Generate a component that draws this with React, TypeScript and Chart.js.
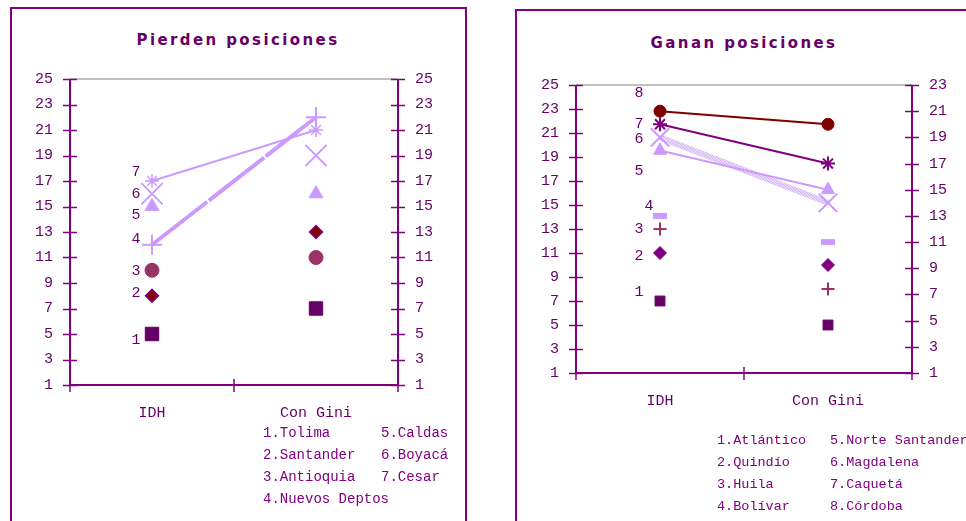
import React, { useEffect, useRef } from "react";
import { Chart, registerables } from "chart.js";
Chart.register(...registerables);

const categories = ["IDH", "Con Gini"];

const lossNames = ["Tolima", "Santander", "Antioquia", "Nuevos Deptos", "Caldas", "Boyacá", "Cesar"];
const lossIDH = [5, 8, 10, 12, 15, 16, 17];
const lossGini = [7, 13, 11, 22, 16, 19, 21];

const gainNames = ["Atlántico", "Quindío", "Huila", "Bolívar", "Norte Santander", "Magdalena", "Caquetá", "Córdoba"];
const gainIDH = [7, 11, 13, 13, 18, 19, 20, 21];
const gainGini = [5, 10, 8, 11, 15, 14, 17, 20];
const gainAxisIds = ["y", "y", "y", "y2", "y2", "y2", "y2", "y2"];

const lossTitle = "Pierden posiciones";
const gainTitle = "Ganan posiciones";

const PURPLE = "#800080";
const DARK = "#660066";
const LAV = "#CC99FF";
const MONO = "'Liberation Mono', 'DejaVu Sans Mono', monospace";

type Style = {
  ps: string; r: number; bg: string; bc: string; bw: number;
  line?: { color: any; width: number; dash?: number[] };
};

function makeHatch(): any {
  const c = document.createElement("canvas");
  c.width = 3; c.height = 3;
  const g = c.getContext("2d")!;
  g.fillStyle = "#E8D8F8"; g.fillRect(0, 0, 3, 3);
  g.fillStyle = "#D2B4F2";
  g.fillRect(0, 0, 1, 1); g.fillRect(1, 1, 1, 1); g.fillRect(2, 2, 1, 1);
  return g.createPattern(c, "repeat");
}

const lossStyles: Style[] = [
  { ps: "rect", r: 9.5, bg: DARK, bc: DARK, bw: 1 },
  { ps: "rectRot", r: 6.5, bg: "#800000", bc: PURPLE, bw: 1.5 },
  { ps: "circle", r: 7, bg: "#993366", bc: "#993366", bw: 1 },
  { ps: "cross", r: 10, bg: LAV, bc: LAV, bw: 2, line: { color: LAV, width: 4, dash: [70, 2] } },
  { ps: "triangle", r: 8, bg: LAV, bc: LAV, bw: 1 },
  { ps: "crossRot", r: 15, bg: LAV, bc: LAV, bw: 2 },
  { ps: "star", r: 7, bg: LAV, bc: LAV, bw: 1.5, line: { color: LAV, width: 2 } },
];

const gainStyles = (): Style[] => [
  { ps: "rect", r: 7, bg: DARK, bc: DARK, bw: 1 },
  { ps: "rectRot", r: 6.5, bg: PURPLE, bc: PURPLE, bw: 1 },
  { ps: "cross", r: 6.5, bg: "#993366", bc: "#993366", bw: 2 },
  { ps: "line", r: 7, bg: LAV, bc: LAV, bw: 6 },
  { ps: "triangle", r: 7.5, bg: LAV, bc: LAV, bw: 1, line: { color: LAV, width: 2 } },
  { ps: "crossRot", r: 13, bg: LAV, bc: LAV, bw: 2, line: { color: makeHatch(), width: 6 } },
  { ps: "star", r: 7, bg: PURPLE, bc: PURPLE, bw: 2, line: { color: PURPLE, width: 2 } },
  { ps: "circle", r: 6, bg: "#800000", bc: "#800000", bw: 1, line: { color: "#800000", width: 2 } },
];

const framePlugin = {
  id: "frame",
  beforeDatasetsDraw(chart: any) {
    const { ctx, chartArea: a, scales } = chart;
    const seg = (x1: number, y1: number, x2: number, y2: number) => {
      ctx.beginPath(); ctx.moveTo(x1, y1); ctx.lineTo(x2, y2); ctx.stroke();
    };
    ctx.save();
    ctx.strokeStyle = "#C0C0C0"; ctx.lineWidth = 2;
    seg(a.left, a.top, a.right, a.top);
    ctx.strokeStyle = PURPLE; ctx.lineWidth = 2;
    seg(a.left, a.top, a.left, a.bottom + 1);
    seg(a.right, a.top, a.right, a.bottom + 1);
    seg(a.left, a.bottom, a.right, a.bottom);
    ctx.lineWidth = 1.5;
    Object.values(scales).forEach((s: any) => {
      if (s.axis !== "y") return;
      const x = s.position === "left" ? a.left : a.right;
      s.ticks.forEach((t: any) => {
        const py = Math.round(s.getPixelForValue(t.value)) + 0.5;
        seg(x - 7, py, x + 7, py);
      });
    });
    const xs = scales.x;
    const p0 = xs.getPixelForValue(0), p1 = xs.getPixelForValue(1);
    [a.left, (p0 + p1) / 2, a.right].forEach((x) => seg(x, a.bottom - 6, x, a.bottom + 7));
    ctx.restore();
  },
  afterDatasetsDraw(chart: any, _args: any, opts: any) {
    const { ctx } = chart;
    ctx.save();
    ctx.fillStyle = DARK;
    ctx.font = `15px ${MONO}`;
    ctx.textAlign = "center";
    ctx.textBaseline = "middle";
    chart.data.datasets.forEach((_d: any, i: number) => {
      const el = chart.getDatasetMeta(i).data[0];
      if (!el) return;
      const dx = opts.dx[i], dy = opts.dy[i];
      ctx.fillText(String(i + 1), el.x + dx, el.y + dy);
    });
    ctx.restore();
  },
};

function buildDatasets(idh: number[], gini: number[], styles: Style[], names: string[], axes?: string[]) {
  return idh.map((v, i) => {
    const s = styles[i];
    return {
      label: names[i],
      data: [v, gini[i]],
      yAxisID: axes ? axes[i] : "y",
      showLine: !!s.line,
      borderColor: s.line ? s.line.color : s.bc,
      borderWidth: s.line ? s.line.width : 0,
      borderDash: s.line && s.line.dash ? s.line.dash : [],
      pointStyle: s.ps,
      pointRadius: s.r,
      pointBackgroundColor: s.bg,
      pointBorderColor: s.bc,
      pointBorderWidth: s.bw,
      fill: false,
      tension: 0,
    };
  });
}

function yAxis(position: string, min: number, max: number, width: number, display = true) {
  return {
    type: "linear",
    position,
    min, max,
    afterFit: (s: any) => { s.width = width; },
    grid: { display: false, drawTicks: false },
    border: { display: false },
    ticks: {
      stepSize: 2,
      padding: 17,
      color: DARK,
      font: { family: MONO, size: 15 },
      display,
    },
  };
}

function ChartBox(props: { cfg: () => any; left: number; top: number; w: number; h: number }) {
  const ref = useRef<HTMLCanvasElement>(null);
  useEffect(() => {
    const chart = new Chart(ref.current!, props.cfg());
    return () => chart.destroy();
  }, []);
  return (
    <canvas
      ref={ref}
      width={props.w}
      height={props.h}
      style={{ position: "absolute", left: props.left, top: props.top, width: props.w, height: props.h }}
    />
  );
}

const lossCfg = () => ({
  type: "line",
  data: { labels: categories, datasets: buildDatasets(lossIDH, lossGini, lossStyles, lossNames) },
  options: {
    responsive: false,
    animation: false,
    events: [],
    layout: { padding: { top: 72, left: 0, right: 0, bottom: 0 } },
    plugins: {
      legend: { display: false },
      title: { display: false },
      tooltip: { enabled: false },
      frame: { dx: [-16, -16, -16, -16, -16, -16, -16], dy: [6, -3, 1, -6, 9, 0, -9] },
    },
    scales: {
      x: {
        type: "category",
        offset: true,
        afterFit: (s: any) => { s.height = 136; },
        grid: { display: false, drawTicks: false },
        border: { display: false },
        ticks: { padding: 19, color: DARK, font: { family: MONO, size: 15 } },
      },
      y: yAxis("left", 1, 25, 60),
      y2: yAxis("right", 1, 25, 68),
    },
  },
  plugins: [framePlugin],
});

const gainCfg = () => ({
  type: "line",
  data: { labels: categories, datasets: buildDatasets(gainIDH, gainGini, gainStyles(), gainNames, gainAxisIds) },
  options: {
    responsive: false,
    animation: false,
    events: [],
    layout: { padding: { top: 75, left: 0, right: 0, bottom: 0 } },
    plugins: {
      legend: { display: false },
      title: { display: false },
      tooltip: { enabled: false },
      frame: { dx: [-21, -21, -21, -11, -21, -21, -21, -21], dy: [-9, 3, 0, -10, 21, 2, 0, -18] },
    },
    scales: {
      x: {
        type: "category",
        offset: true,
        afterFit: (s: any) => { s.height = 148; },
        grid: { display: false, drawTicks: false },
        border: { display: false },
        ticks: { padding: 19, color: DARK, font: { family: MONO, size: 15 } },
      },
      y: yAxis("left", 1, 25, 60),
      y2: yAxis("right", 1, 23, 54),
    },
  },
  plugins: [framePlugin],
});

function Legend(props: { names: string[]; split: number; x1: number; x2: number; y0: number; size: number }) {
  const items = props.names.map((n, i) => {
    const col = i < props.split ? 0 : 1;
    const row = col === 0 ? i : i - props.split;
    return (
      <div
        key={i}
        style={{
          position: "absolute",
          left: col === 0 ? props.x1 : props.x2,
          top: props.y0 + row * 22 - 9,
          fontFamily: MONO,
          fontSize: props.size,
          lineHeight: "18px",
          color: PURPLE,
          whiteSpace: "nowrap",
        }}
      >
        {`${i + 1}.${n}`}
      </div>
    );
  });
  return <>{items}</>;
}

function Title(props: { text: string; cx: number; cy: number }) {
  return (
    <div
      style={{
        position: "absolute",
        left: props.cx - 200,
        width: 400,
        top: props.cy - 11,
        lineHeight: "22px",
        textAlign: "center",
        fontFamily: "'DejaVu Sans', sans-serif",
        fontWeight: "bold",
        fontSize: 15,
        letterSpacing: "2.4px",
        color: DARK,
        whiteSpace: "nowrap",
      }}
    >
      {props.text}
    </div>
  );
}

export default function App() {
  return (
    <div style={{ position: "absolute", left: 0, top: 0, width: 966, height: 521, overflow: "hidden", background: "#fff" }}>
      <div style={{ position: "absolute", left: 10, top: 7, width: 457, height: 600, border: `2px solid ${PURPLE}`, boxSizing: "border-box" }} />
      <div style={{ position: "absolute", left: 515, top: 9, width: 600, height: 600, border: `2px solid ${PURPLE}`, boxSizing: "border-box" }} />
      <Title text={lossTitle} cx={238} cy={40} />
      <Title text={gainTitle} cx={744} cy={43} />
      <ChartBox cfg={lossCfg} left={10} top={7} w={456} h={514} />
      <ChartBox cfg={gainCfg} left={516} top={10} w={450} h={511} />
      <Legend names={lossNames} split={4} x1={263} x2={381} y0={433} size={14} />
      <Legend names={gainNames} split={4} x1={717} x2={830} y0={441} size={13.5} />
    </div>
  );
}
